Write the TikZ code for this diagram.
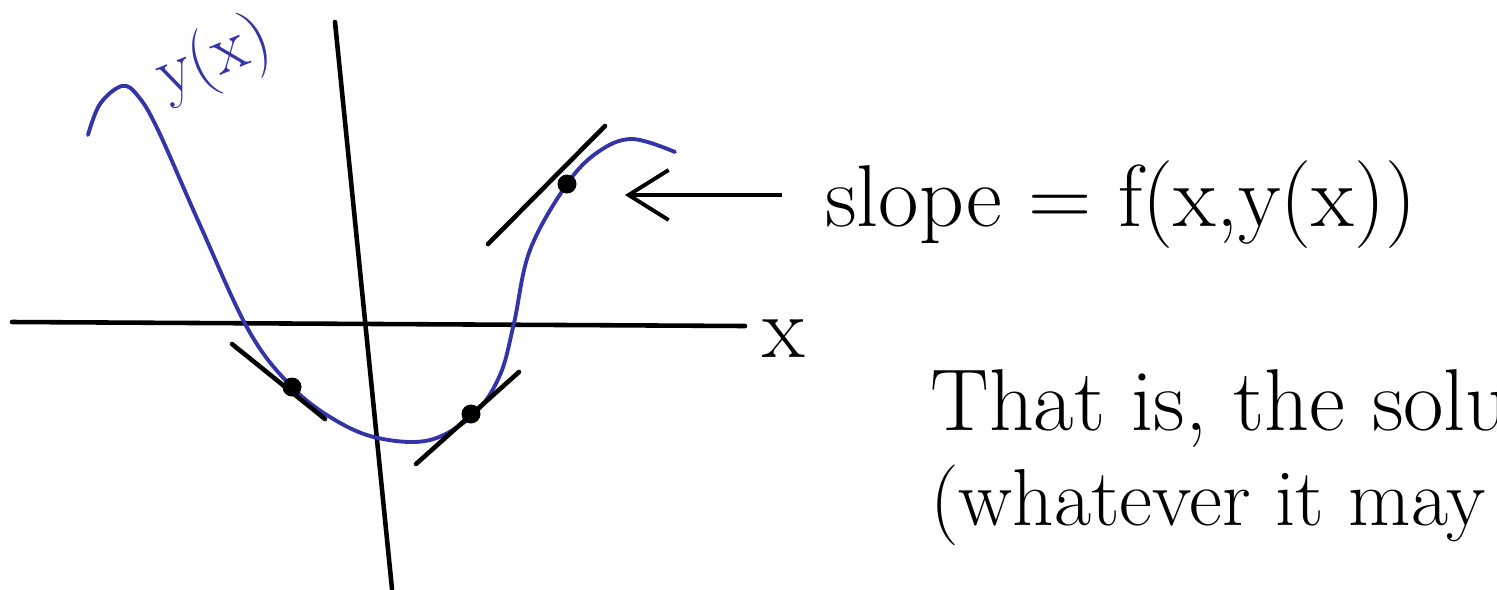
\documentclass[tikz,border=0pt]{standalone}
\usepackage{tikz}
\usetikzlibrary{arrows.meta,positioning}
\definecolor{penblue}{RGB}{52,52,168}

\begin{document}
\begin{tikzpicture}[x=0.02cm, y=-0.02cm, >={Straight Barb[length=0.8cm,width=1cm]},
    axisline/.style={line width=2.6pt, line cap=round},
    tangentline/.style={line width=2.6pt, line cap=round},
    curveline/.style={line width=2.2pt, draw=penblue, line cap=round},
    hand/.style={font=\fontsize{50}{60}\selectfont, inner sep=0pt, anchor=base west}]
    % Canvas
    \useasboundingbox (0,0) rectangle (1497,589);
    \clip (0,0) rectangle (1497,589);

    % Axes
    \draw[axisline] (12,322) -- (745,326);
    \draw[axisline] (335,22) -- (392,589);
    \node[hand] (xlabel) at (762,357) {x};

    % Solution curve
    \draw[curveline] plot[smooth, tension=0.6] coordinates {(88,135) (100,104) (122,86) (138,96) (158,130)
        (200,225) (249,331) (292,387) (335,420) (378,438) (430,440) (474,414) (500,375)
        (514,323) (530,250) (567,184) (598,152) (632,139) (675,152)};
    \node[font=\fontsize{40}{48}\selectfont, penblue, rotate=22, inner sep=0pt, anchor=base west] (ylabel) at (166,98) {y(x)};

    % Points and tangent lines
    \coordinate (p1) at (292,387);
    \coordinate (p2) at (471,414);
    \coordinate (p3) at (567,184);
    \draw[tangentline] (232,344) -- (325,419);
    \draw[tangentline] (416,464) -- (519,372);
    \draw[tangentline] (488,244) -- (605,126);
    \foreach \p in {p1,p2,p3}
        \fill (\p) circle[radius=0.19cm];

    % Slope label
    \coordinate (tip) at (625,195);
    \node[hand] (slope) at (825,226) {slope = f(x,y(x))};
    \draw[->, line width=2.2pt, shorten <=0.86cm] (tip -| slope.west) -- (tip);

    % Text below
    \node[hand] (line1) at (930,430) {That is, the solution};
    \node[hand, font=\fontsize{46}{55}\selectfont] (line2) at (930,525) {(whatever it may be)};
\end{tikzpicture}
\end{document}
